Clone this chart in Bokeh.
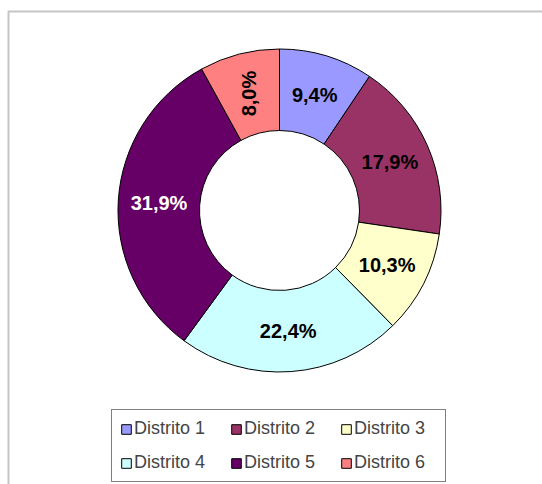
import math
from bokeh.plotting import figure
from bokeh.models import ColumnDataSource, Legend, LegendItem, Range1d, BoxAnnotation
from bokeh.core.properties import value
from bokeh.embed import file_html
from bokeh.resources import INLINE

# ---- data ----
categories = ["Distrito 1", "Distrito 2", "Distrito 3", "Distrito 4", "Distrito 5", "Distrito 6"]
values = [9.4, 17.9, 10.3, 22.4, 31.9, 8.0]
colors = ["#9999FF", "#993366", "#FFFFCC", "#CCFFFF", "#660066", "#FF8080"]
label_colors = ["black", "black", "black", "black", "white", "black"]

W, H = 542, 484

p = figure(width=W, height=H, output_backend="svg", toolbar_location=None,
           x_range=Range1d(0, W), y_range=Range1d(0, H),
           x_axis_type=None, y_axis_type=None, min_border=0)
p.grid.visible = False
p.outline_line_color = None
p.background_fill_color = "white"
p.border_fill_color = "white"

# outer chart frame (extends beyond visible area)
p.add_layout(BoxAnnotation(left=8, right=W + 20, bottom=-20, top=H - 11,
                           fill_alpha=0, line_color="#404040", line_width=2))

cx, cy = 279, H - 210
r_in, r_out = 80, 161.5
total = sum(values)

starts, ends, lx, ly, texts, angles = [], [], [], [], [], []
cum = 0.0
for i, v in enumerate(values):
    a0 = math.pi / 2 - 2 * math.pi * cum / total
    a1 = math.pi / 2 - 2 * math.pi * (cum + v) / total
    am = math.pi / 2 - 2 * math.pi * (cum + v / 2) / total
    starts.append(a0)
    ends.append(a1)
    rm = (r_in + r_out) / 2
    lx.append(cx + rm * math.cos(am))
    ly.append(cy + rm * math.sin(am))
    texts.append(f"{v:.1f}%".replace(".", ","))
    angles.append(math.pi / 2 if i == 5 else 0.0)
    cum += v

src = ColumnDataSource(dict(start=starts, end=ends, color=colors, cat=categories))
r = p.annular_wedge(x=cx, y=cy, inner_radius=r_in, outer_radius=r_out,
                    start_angle="start", end_angle="end", direction="clock",
                    fill_color="color", line_color="black", line_width=1, source=src)

lsrc = ColumnDataSource(dict(x=lx, y=ly, t=texts, a=angles, c=label_colors))
p.text(x="x", y="y", text="t", angle="a", text_color="c", source=lsrc,
       text_font=value("Liberation Sans"), text_font_style="bold",
       text_font_size="20px", text_align="center", text_baseline="middle")

items = [LegendItem(label=c, renderers=[r], index=i) for i, c in enumerate(categories)]
legend = Legend(items=items, orientation="horizontal", ncols=3,
                location=(111, 2), margin=0, padding=8, spacing=13,
                glyph_width=12, glyph_height=12, label_standoff=2,
                label_width=83, label_height=20,
                label_text_font="Liberation Sans", label_text_font_size="18px",
                border_line_color="black", border_line_width=1,
                background_fill_color="white", background_fill_alpha=1)
p.add_layout(legend, "center")

open("out.html", "w").write(file_html(p, INLINE))
